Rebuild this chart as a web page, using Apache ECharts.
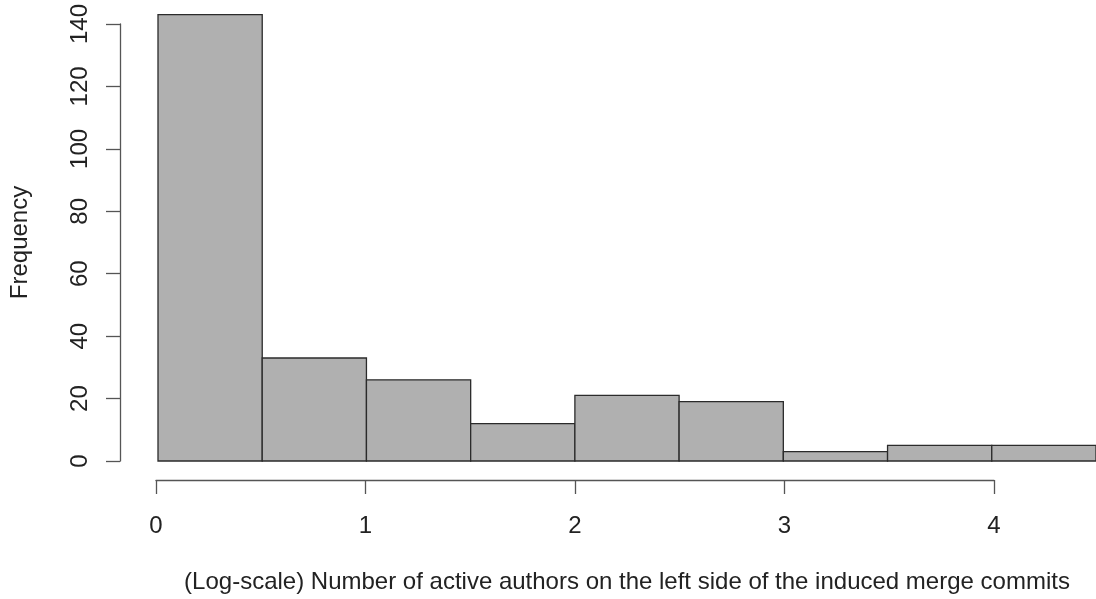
<!DOCTYPE html>
<html>
<head>
<meta charset="utf-8">
<script src="https://cdn.jsdelivr.net/npm/echarts@6/dist/echarts.min.js"></script>
<style>
  html, body { margin: 0; padding: 0; background: #fff; }
  #chart { width: 1096px; height: 599px; }
</style>
</head>
<body>
<div id="chart"></div>
<script>
  // histogram bins (log-scale of active authors) and their counts
  var binStarts = [0, 0.5, 1, 1.5, 2, 2.5, 3, 3.5, 4];
  var binEnds = [0.5, 1, 1.5, 2, 2.5, 3, 3.5, 4, 4.5];
  var counts = [143, 33, 26, 12, 21, 19, 3, 5, 5];

  var yTicks = [0, 20, 40, 60, 80, 100, 120, 140];
  var xTicks = [0, 1, 2, 3, 4];

  var font = "'Liberation Sans', Arial, Helvetica, sans-serif";
  var textColor = "#222";
  var axisColor = "#555";

  var histData = binStarts.map(function (s, i) {
    return [s, binEnds[i], counts[i]];
  });

  var option = {
    animation: false,
    backgroundColor: "#fff",
    grid: [
      { left: 156, top: 24, width: 943, height: 438 },
      { left: 156, top: 24, width: 838, height: 438 }
    ],
    xAxis: [
      {
        // bar scale, only carries the centred axis title
        gridIndex: 0,
        type: "value",
        min: binStarts[0],
        max: binEnds[binEnds.length - 1],
        axisLine: { show: false },
        axisTick: { show: false },
        axisLabel: { show: false },
        splitLine: { show: false },
        name: "(Log-scale) Number of active authors on the left side of the induced merge commits",
        nameLocation: "middle",
        nameGap: 109,
        nameTextStyle: { fontSize: 24, fontFamily: font, color: textColor }
      },
      {
        gridIndex: 1,
        type: "value",
        min: xTicks[0],
        max: xTicks[xTicks.length - 1],
        interval: 1,
        offset: 18,
        axisLine: { show: true, onZero: false, lineStyle: { color: axisColor, width: 1.3 } },
        axisTick: { show: true, length: 14, lineStyle: { color: axisColor, width: 1.3 } },
        axisLabel: { margin: 34, fontSize: 24, fontFamily: font, color: textColor },
        splitLine: { show: false }
      }
    ],
    yAxis: [
      {
        gridIndex: 0,
        type: "value",
        min: yTicks[0],
        max: yTicks[yTicks.length - 1],
        interval: 20,
        offset: 38,
        axisLine: { show: true, onZero: false, lineStyle: { color: axisColor, width: 1.3 } },
        axisTick: { show: true, length: 14, lineStyle: { color: axisColor, width: 1.3 } },
        axisLabel: { rotate: 90, margin: 28, fontSize: 24, fontFamily: font, color: textColor },
        splitLine: { show: false },
        name: "Frequency",
        nameLocation: "middle",
        nameGap: 88,
        nameTextStyle: { fontSize: 24, fontFamily: font, color: textColor }
      },
      {
        gridIndex: 1,
        type: "value",
        min: 0,
        max: 140,
        show: false
      }
    ],
    series: [
      {
        type: "custom",
        xAxisIndex: 0,
        yAxisIndex: 0,
        data: histData,
        renderItem: function (params, api) {
          var p0 = api.coord([api.value(0), api.value(2)]);
          var p1 = api.coord([api.value(1), 0]);
          return {
            type: "rect",
            shape: { x: p0[0], y: p0[1], width: p1[0] - p0[0], height: p1[1] - p0[1] },
            style: { fill: "#b0b0b0", stroke: "#2b2b2b", lineWidth: 1.3 }
          };
        }
      }
    ]
  };

  var myChart = echarts.init(document.getElementById("chart"));
  myChart.setOption(option);
</script>
</body>
</html>
